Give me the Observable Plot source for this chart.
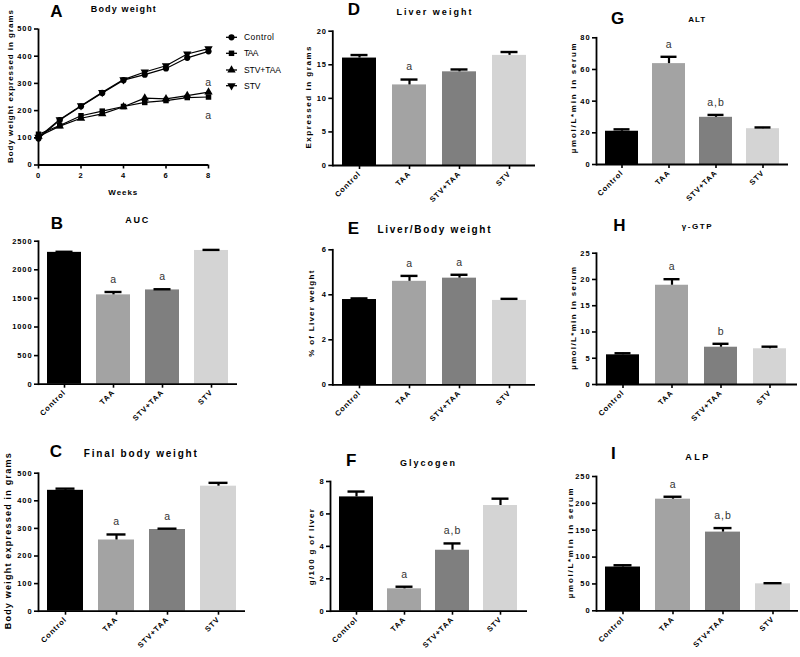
<!DOCTYPE html>
<html><head><meta charset="utf-8">
<script src="https://cdn.jsdelivr.net/npm/d3@7"></script>
<script src="https://cdn.jsdelivr.net/npm/@observablehq/plot@0.6"></script>
<style>
body{margin:0;background:#fff;}
#root{position:relative;width:800px;height:657px;overflow:hidden;background:#fff;}
.panel{position:absolute;}
.panel svg{overflow:visible;background:transparent;}
.panel svg [aria-label$="axis tick"]{stroke-width:1.6px;}
</style></head><body><div id="root"></div><script>
const FONT = '"Liberation Sans", Arial, sans-serif';

// ---------- data ----------
const groups = ["Control", "TAA", "STV+TAA", "STV"];
const barFills = ["#000000", "#a3a3a3", "#7f7f7f", "#d4d4d4"];

const weeks = [0, 1, 2, 3, 4, 5, 6, 7, 8];
const bwControl = [97, 165, 216, 265, 312, 332, 355, 394, 418];
const bwTAA = [113, 145, 181, 198, 215, 230, 237, 248, 250];
const bwSTVTAA = [105, 143, 172, 188, 214, 246, 243, 255, 268];
const bwSTV = [102, 167, 218, 267, 314, 342, 365, 408, 428];
const weekTicks = [0, 2, 4, 6, 8];
const bwTicks = [0, 100, 200, 300, 400, 500];

const aucMean = [2305, 1562, 1648, 2338];
const aucErr = [10, 50, 12, 10];
const aucSig = ["", "a", "a", ""];
const aucTicks = [0, 500, 1000, 1500, 2000, 2500];

const finalMean = [438, 258, 296, 453];
const finalErr = [6, 20, 3, 12];
const finalSig = ["", "a", "a", ""];
const finalTicks = [0, 100, 200, 300, 400, 500];

const liverMean = [16.0, 12.0, 13.95, 16.4];
const liverErr = [0.45, 0.8, 0.35, 0.5];
const liverSig = ["", "a", "", ""];
const liverTicks = [0, 5, 10, 15, 20];

const ratioMean = [3.79, 4.6, 4.74, 3.75];
const ratioErr = [0.05, 0.24, 0.15, 0.07];
const ratioSig = ["", "a", "a", ""];
const ratioTicks = [0, 2, 4, 6];

const glyMean = [7.05, 1.38, 3.76, 6.52];
const glyErr = [0.33, 0.13, 0.42, 0.42];
const glySig = ["", "a", "a,b", ""];
const glyTicks = [0, 2, 4, 6, 8];

const altMean = [21.0, 63.7, 29.8, 22.6];
const altErr = [1.2, 4.3, 1.5, 0.8];
const altSig = ["", "a", "a,b", ""];
const altTicks = [0, 20, 40, 60, 80];

const ggtMean = [5.65, 18.9, 7.1, 6.8];
const ggtErr = [0.3, 1.15, 0.65, 0.4];
const ggtSig = ["", "a", "b", ""];
const ggtTicks = [0, 5, 10, 15, 20, 25];

const alpMean = [81.5, 207.8, 146.5, 50.2];
const alpErr = [3.3, 4.5, 7.5, 1.2];
const alpSig = ["", "a", "a,b", ""];
const alpTicks = [0, 50, 100, 150, 200, 250];

const panelLetters = ["A", "B", "C", "D", "E", "F", "G", "H", "I"];
const panelTitles = ["Body weight", "AUC", "Final body weight", "Liver weight", "Liver/Body weight", "Glycogen", "ALT", "γ-GTP", "ALP"];
const yLabels = ["Body weight expressed in grams", "", "Body weight expressed in grams", "Expressed in grams", "% of Liver weight", "g/100 g of liver", "µmol/L*min in serum", "µmol/L*min in serum", "µmol/L*min in serum"];
const xLabelA = "Weeks";

// ---------- layout ----------
const root = document.getElementById("root");
function place(node, box) {
  const div = document.createElement("div");
  div.className = "panel";
  div.style.left = box[0] + "px";
  div.style.top = box[1] + "px";
  div.style.width = box[2] + "px";
  div.style.height = box[3] + "px";
  div.appendChild(node);
  root.appendChild(div);
}
const baseStyle = {background: "transparent", overflow: "visible", fontFamily: FONT, fontSize: "7.5px", fontWeight: "bold", letterSpacing: "0.9px", color: "#000"};
const fmt = d => String(d);

// custom downward triangle
const sqrt3 = Math.sqrt(3);
const triangleDown = {
  draw(context, size) {
    const y = -Math.sqrt(size / (sqrt3 * 3));
    context.moveTo(0, -y * 2);
    context.lineTo(-sqrt3 * y, y);
    context.lineTo(sqrt3 * y, y);
    context.closePath();
  }
};
const seriesSymbols = ["circle", "square", "triangle", triangleDown];

// ---------- panel A ----------
{
  const series = [bwControl, bwTAA, bwSTVTAA, bwSTV];
  const rows = [];
  groups.forEach((g, si) => weeks.forEach((w, i) => rows.push({series: g, week: w, value: series[si][i]})));
  const last = weeks.length - 1;
  const box = [0, 0, 270, 200], frame = [38, 208, 28.5, 164.5];
  const p = Plot.plot({
    width: box[2], height: box[3],
    marginLeft: frame[0] - box[0], marginRight: box[0] + box[2] - frame[1],
    marginTop: frame[2] - box[1], marginBottom: box[1] + box[3] - frame[3],
    style: baseStyle,
    x: {domain: [0, 8], ticks: weekTicks, tickSize: 4, tickPadding: 4, tickFormat: fmt, label: null},
    y: {domain: [0, 500], ticks: bwTicks, tickSize: 4, tickPadding: 2, tickFormat: fmt, label: null},
    marks: [
      Plot.line(rows, {x: "week", y: "value", z: "series", stroke: "#000", strokeWidth: 1.2}),
      ...groups.map((g, si) => Plot.dot(rows.filter(d => d.series === g), {x: "week", y: "value", symbol: seriesSymbols[si], r: 3.1, fill: "#000", stroke: "none"})),
      Plot.text([{week: weeks[last], value: bwSTVTAA[last], t: "a"}], {x: "week", y: "value", text: "t", dy: -9, fontSize: 10.5, fontWeight: "normal", fill: "#333"}),
      Plot.text([{week: weeks[last], value: bwTAA[last], t: "a"}], {x: "week", y: "value", text: "t", dy: 19, fontSize: 10.5, fontWeight: "normal", fill: "#333"}),
      Plot.ruleX([0], {stroke: "#000", strokeWidth: 1.8}),
      Plot.ruleY([0], {stroke: "#000", strokeWidth: 1.8})
    ]
  });
  place(p, box);
}

// ---------- bar panels ----------
const barPanels = [
  {means: aucMean, errs: aucErr, sig: aucSig, ticks: aucTicks, box: [0, 225, 265, 200], frame: [38, 237, 240.7, 383.7], pi: 0.31, po: 0.17},
  {means: finalMean, errs: finalErr, sig: finalSig, ticks: finalTicks, box: [0, 450, 265, 207], frame: [38, 245, 472.7, 610.7], pi: 0.30, po: 0.166},
  {means: liverMean, errs: liverErr, sig: liverSig, ticks: liverTicks, box: [280, 20, 262, 200], frame: [332.3, 535, 30.7, 165], pi: 0.317, po: 0.165},
  {means: ratioMean, errs: ratioErr, sig: ratioSig, ticks: ratioTicks, box: [280, 240, 262, 190], frame: [332.3, 535, 249.3, 384.3], pi: 0.317, po: 0.165},
  {means: glyMean, errs: glyErr, sig: glySig, ticks: glyTicks, box: [280, 470, 262, 187], frame: [330, 527, 481, 610.7], pi: 0.286, po: 0.181},
  {means: altMean, errs: altErr, sig: altSig, ticks: altTicks, box: [540, 25, 260, 190], frame: [596, 788, 37.3, 164], pi: 0.30, po: 0.154},
  {means: ggtMean, errs: ggtErr, sig: ggtSig, ticks: ggtTicks, box: [540, 240, 260, 190], frame: [596, 797, 252.7, 384], pi: 0.325, po: 0.176},
  {means: alpMean, errs: alpErr, sig: alpSig, ticks: alpTicks, box: [540, 465, 260, 192], frame: [596, 798, 476, 610.3], pi: 0.305, po: 0.159}
];

for (const cfg of barPanels) {
  const {box, frame} = cfg;
  const rows = groups.map((g, i) => ({group: g, mean: cfg.means[i], top: cfg.means[i] + cfg.errs[i], sig: cfg.sig[i]}));
  const p = Plot.plot({
    width: box[2], height: box[3],
    marginLeft: frame[0] - box[0], marginRight: box[0] + box[2] - frame[1],
    marginTop: frame[2] - box[1], marginBottom: box[1] + box[3] - frame[3],
    style: baseStyle,
    x: {domain: groups, paddingInner: cfg.pi, paddingOuter: cfg.po, tickRotate: -45, tickSize: 4, tickPadding: 3, label: null},
    y: {domain: [0, cfg.ticks[cfg.ticks.length - 1]], ticks: cfg.ticks, tickSize: 4, tickPadding: 2, tickFormat: fmt, label: null},
    color: {domain: groups, range: barFills},
    marks: [
      Plot.barY(rows, {x: "group", y: "mean", fill: "group"}),
      Plot.ruleX(rows, {x: "group", y1: "mean", y2: "top", stroke: "#000", strokeWidth: 2.2}),
      Plot.tickY(rows, {x: "group", y: "top", stroke: "#000", strokeWidth: 2.4, insetLeft: 8.5, insetRight: 8.5}),
      Plot.text(rows.filter(d => d.sig), {x: "group", y: "top", text: "sig", dy: -12.5, fontSize: 10.5, fontWeight: "normal", fill: "#333"}),
      Plot.ruleY([0], {stroke: "#000", strokeWidth: 1.8}),
      Plot.frame({anchor: "left", stroke: "#000", strokeWidth: 1.8})
    ]
  });
  place(p, box);
}

// ---------- overlay text (titles, letters, axis labels, legend) ----------
const letterPos = [[56.5, 11], [57, 223.5], [55.8, 451], [354, 9.5], [353.3, 228.7], [351.3, 460.8], [617.5, 18.3], [619.3, 225.3], [613.3, 453.3]];
const titlePos = [[123.3, 9.3, 65, 9], [136.7, 220, 23, 9], [140.3, 453.3, 113, 10], [434, 11.7, 75, 9], [434, 229.3, 113, 10], [427.5, 463.3, 55, 9], [696.7, 19.3, 17, 8], [696.7, 226.7, 30, 8], [696.7, 457.3, 23, 9]];
const ylabPos = [[10, 86.5, 153, 8], null, [7.5, 541.3, 176, 9], [308.3, 97.5, 102, 8], [311.7, 313.7, 86, 8], [311.7, 547.2, 76, 8], [573.3, 98.3, 110, 8], [573.3, 318.3, 103, 8], [570.7, 543.3, 110, 8]];

const ov = d3.select(root).append("svg")
  .attr("width", 800).attr("height", 657)
  .style("position", "absolute").style("left", "0px").style("top", "0px")
  .style("pointer-events", "none")
  .attr("font-family", FONT);

panelLetters.forEach((t, i) => {
  ov.append("text").attr("x", letterPos[i][0]).attr("y", letterPos[i][1])
    .attr("text-anchor", "middle").attr("dominant-baseline", "central")
    .attr("font-size", 17).attr("font-weight", "bold").text(t);
});
panelTitles.forEach((t, i) => {
  const [x, y, len, fs] = titlePos[i];
  ov.append("text").attr("x", x).attr("y", y)
    .attr("text-anchor", "middle").attr("dominant-baseline", "central")
    .attr("font-size", fs).attr("font-weight", "bold")
    .attr("textLength", len).attr("lengthAdjust", "spacing").text(t);
});
yLabels.forEach((t, i) => {
  if (!t || !ylabPos[i]) return;
  const [x, y, len, fs] = ylabPos[i];
  ov.append("text").attr("transform", `translate(${x},${y}) rotate(-90)`)
    .attr("text-anchor", "middle").attr("dominant-baseline", "central")
    .attr("font-size", fs).attr("font-weight", "bold")
    .attr("textLength", len).attr("lengthAdjust", "spacing").text(t);
});
ov.append("text").attr("x", 122.8).attr("y", 192.7)
  .attr("text-anchor", "middle").attr("dominant-baseline", "central")
  .attr("font-size", 8).attr("font-weight", "bold")
  .attr("textLength", 29).attr("lengthAdjust", "spacing").text(xLabelA);

// legend for panel A
const legendY = [37.3, 53.3, 70, 85.7];
const legendLen = [30, 14.5, 37, 16.5];
const d3Symbols = [d3.symbolCircle, d3.symbolSquare, d3.symbolTriangle, triangleDown];
groups.forEach((g, i) => {
  const y = legendY[i];
  ov.append("line").attr("x1", 226).attr("x2", 237).attr("y1", y).attr("y2", y).attr("stroke", "#000").attr("stroke-width", 1.3);
  ov.append("path").attr("transform", `translate(231.5,${y})`).attr("d", d3.symbol(d3Symbols[i], 30)()).attr("fill", "#000");
  ov.append("text").attr("x", 244).attr("y", y).attr("dominant-baseline", "central")
    .attr("font-size", 8.5).attr("textLength", legendLen[i]).attr("lengthAdjust", "spacing").text(g);
});
</script></body></html>
